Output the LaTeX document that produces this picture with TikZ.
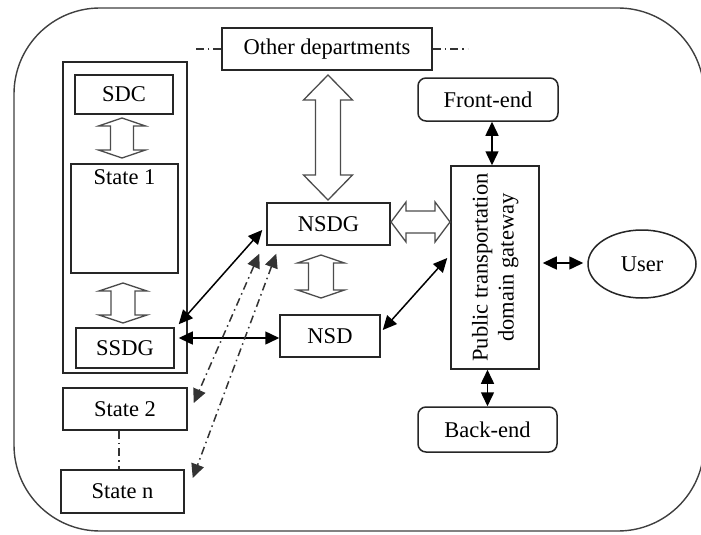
\documentclass[tikz,border=0pt]{standalone}
\usepackage{fontspec}
\setmainfont{Liberation Serif}
\usepackage{graphicx}
\usetikzlibrary{arrows.meta,shapes.geometric,calc}
\tikzset{
  box/.style={draw=black!85, line width=1.5pt, inner sep=0pt, fill=white},
  rbox/.style={box, rounded corners=8pt},
  hollow/.style={draw=black!70, line width=1.3pt, fill=white, line join=miter},
  arr/.style={line width=1.5pt, draw=black,
    {Triangle[length=14pt,width=13pt]}-{Triangle[length=14pt,width=13pt]}},
  dd/.style={line width=1.5pt, draw=black!80, dash pattern=on 8pt off 4pt on 1.5pt off 4pt},
  ddarr/.style={dd, {Triangle[length=14pt,width=13pt]}-{Triangle[length=14pt,width=13pt]}},
}
\newcommand\hollowV[6]{%
  \draw[hollow] (#1,#2) -- ({#1+#4},{#2+#6}) -- ({#1+#5},{#2+#6}) -- ({#1+#5},{#3-#6})
    -- ({#1+#4},{#3-#6}) -- (#1,#3) -- ({#1-#4},{#3-#6}) -- ({#1-#5},{#3-#6})
    -- ({#1-#5},{#2+#6}) -- ({#1-#4},{#2+#6}) -- cycle;}
\newcommand\hollowH[6]{%
  \draw[hollow] (#2,#1) -- ({#2+#6},{#1-#4}) -- ({#2+#6},{#1-#5}) -- ({#3-#6},{#1-#5})
    -- ({#3-#6},{#1-#4}) -- (#3,#1) -- ({#3-#6},{#1+#4}) -- ({#3-#6},{#1+#5})
    -- ({#2+#6},{#1+#5}) -- ({#2+#6},{#1+#4}) -- cycle;}
\begin{document}
\begin{tikzpicture}[x=1pt,y=-1pt, font=\fontsize{22.5}{28}\selectfont]
\useasboundingbox (0,0) rectangle (701,535);
\clip (0,0) rectangle (701,535);
\fill[white] (0,0) rectangle (701,535);
% outer frame
\draw[line width=1.4pt, draw=black!75, rounded corners=86pt] (14,8) rectangle (704,531);

% left group
\node[box, minimum width=124pt, minimum height=311pt] (grp) at (125,217.5) {};
\node[box, minimum width=98pt, minimum height=39pt] (sdc) at (124,94.5) {SDC};
\node[box, minimum width=107pt, minimum height=109pt,
      label={[anchor=north, yshift=-3pt]north:State 1}] (st1) at (124.5,218.5) {};
\node[box, minimum width=98pt, minimum height=40pt] (ssdg) at (125,348) {SSDG};
\node[box, minimum width=124pt, minimum height=42pt] (st2) at (125,409) {State 2};
\node[box, minimum width=123pt, minimum height=43pt] (stn) at (122.5,491.5) {State n};

% centre
\node[box, minimum width=210pt, minimum height=42pt] (od) at (327,49) {Other departments};
\node[box, minimum width=123pt, minimum height=42pt] (nsdg) at (328.5,224) {NSDG};
\node[box, minimum width=100pt, minimum height=42pt] (nsd) at (330,336) {NSD};

% right
\node[box, minimum width=88pt, minimum height=203pt] (ptdg) at (495,267.5)
  {\rotatebox{90}{\begin{tabular}{@{}c@{}}Public transportation\\[-2pt]domain gateway\end{tabular}}};
\node[rbox, minimum width=140pt, minimum height=43pt] (fe) at (488,99.5) {Front-end};
\node[rbox, minimum width=139pt, minimum height=45pt] (be) at (487.5,429.5) {Back-end};
\node[box, ellipse, minimum width=108pt, minimum height=68pt] (user) at (642,264) {User};

% hollow arrows
\hollowV{328}{75}{200}{24.5}{12.5}{25}
\hollowV{122}{118}{158}{23.5}{11.5}{8}
\hollowV{123}{283}{323}{24}{12}{8}
\hollowV{321}{255}{298}{23.5}{12.5}{8}
\hollowH{222}{391}{450}{20}{11}{15}

% dash-dot side lines of Other departments
\coordinate (odl) at ($(od.west)+(-27,0)$);
\coordinate (odr) at ($(od.east)+(35,0)$);
\draw[dd] (od.west) -- (odl);
\draw[dd] (od.east) -- (odr);

% solid connectors
\draw[arr] ([xshift=4pt]fe.south) -- ([xshift=4pt]fe.south |- ptdg.north);
\draw[arr] (ptdg.south -| be.north) -- (be.north);
\draw[arr] ($(ptdg.east |- user.west)+(3,-1)$) -- ($(user.west)+(-4,-1)$);
\draw[arr] ($(ssdg.north east)+(4,-3)$) -- ($(nsdg.west)+(-4,6)$);
\draw[arr] ($(ssdg.east |- nsd.west)+(4,2)$) -- ($(nsd.west)+(0,2)$);
\draw[arr] ($(nsd.east)+(2,-6)$) -- ($(ptdg.west)+(-3,-9.5)$);

% dash-dot connectors
\draw[ddarr] ($(nsdg.south west)+(-7,8)$) -- ($(st2.east)+(6,-6)$);
\draw[ddarr] ($(nsdg.south west)+(10,8)$) -- ($(stn.east)+(8,-13.5)$);
\draw[dd] ([xshift=-6pt]st2.south) -- ([xshift=-6pt]st2.south |- stn.north);
\end{tikzpicture}
\end{document}
